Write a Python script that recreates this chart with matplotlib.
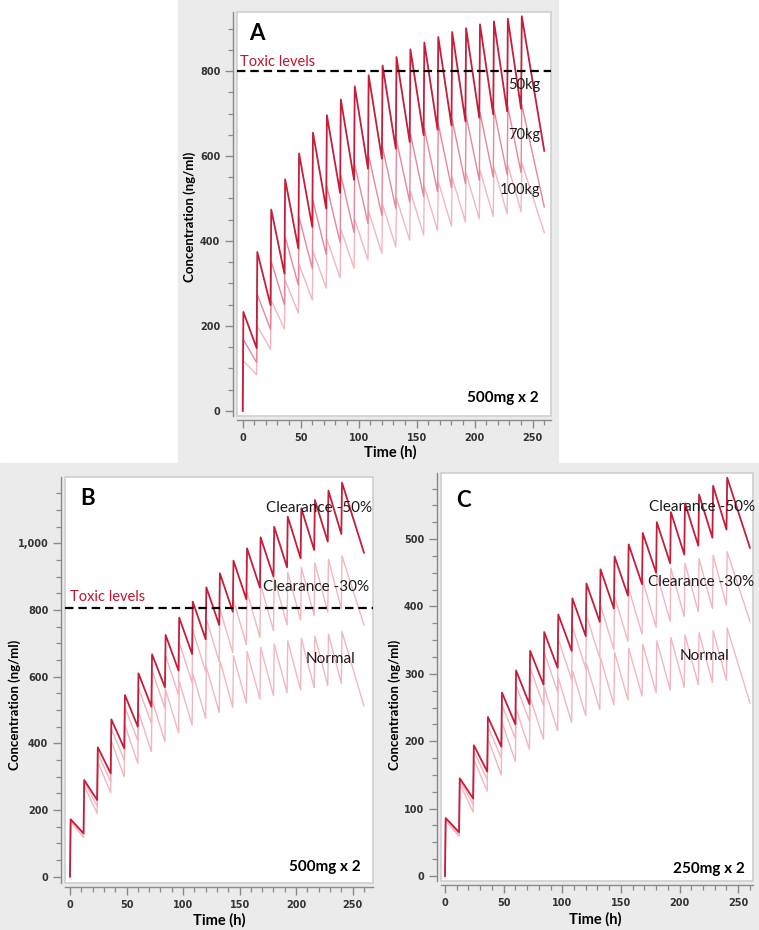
import matplotlib.pyplot as plt
from matplotlib.ticker import MultipleLocator, FuncFormatter
from matplotlib.patches import Rectangle

plt.rcParams['font.family'] = ['Lato', 'DejaVu Sans']

# dosing every 12 h, simulation ends at 260 h
dose_times = list(range(0, 241, 12))
t_end = 260

# Panel A: 500mg x 2, by body weight
a_50_peaks = [233, 374, 474, 545, 606, 655, 696, 733, 764, 790, 813, 833, 851, 867, 880, 892, 901, 910, 917, 923, 929]
a_50_troughs = [148, 249, 323, 382, 433, 476, 513, 544, 570, 594, 617, 633, 649, 662, 672, 682, 690, 698, 705, 711]
a_50_end = 612
a_70_peaks = [168, 274, 352, 410, 456, 495, 528, 556, 580, 601, 620, 637, 652, 665, 676, 686, 695, 703, 710, 716, 721]
a_70_troughs = [114, 192, 250, 296, 335, 368, 396, 420, 441, 460, 477, 492, 505, 516, 526, 535, 543, 550, 556, 561]
a_70_end = 480
a_100_peaks = [118, 200, 260, 308, 345, 376, 404, 428, 451, 470, 486, 501, 517, 529, 540, 550, 560, 567, 573, 579, 584]
a_100_troughs = [85, 145, 193, 230, 261, 289, 313, 336, 355, 371, 386, 402, 414, 425, 435, 445, 452, 458, 464, 469]
a_100_end = 420

# Panel B: 500mg x 2, by clearance
b_50_peaks = [172, 290, 388, 472, 545, 610, 667, 725, 777, 825, 868, 910, 948, 985, 1018, 1050, 1080, 1105, 1130, 1158, 1182]
b_50_troughs = [130, 230, 310, 385, 450, 510, 568, 618, 668, 712, 755, 795, 832, 867, 900, 928, 955, 980, 1005, 1028]
b_50_end = 972
b_30_peaks = [167, 285, 370, 443, 508, 566, 618, 663, 703, 740, 773, 803, 830, 854, 876, 896, 913, 928, 941, 952, 962]
b_30_troughs = [125, 212, 285, 350, 408, 460, 505, 545, 582, 615, 645, 672, 696, 718, 738, 755, 770, 783, 794, 804]
b_30_end = 755
b_norm_peaks = [165, 273, 345, 407, 455, 495, 530, 560, 587, 610, 630, 648, 663, 676, 688, 698, 707, 715, 722, 728, 735]
b_norm_troughs = [118, 190, 252, 300, 340, 375, 405, 432, 455, 475, 493, 508, 521, 533, 543, 552, 560, 567, 573, 580]
b_norm_end = 512

# Panel C: 250mg x 2, by clearance
c_50_peaks = [86, 145, 194, 236, 272, 305, 334, 362, 388, 412, 434, 455, 474, 492, 509, 525, 540, 553, 566, 579, 591]
c_50_troughs = [65, 115, 155, 192, 225, 255, 284, 309, 334, 356, 377, 397, 416, 433, 450, 464, 477, 490, 502, 514]
c_50_end = 487
c_30_peaks = [84, 142, 185, 222, 254, 283, 309, 332, 352, 370, 387, 402, 415, 427, 438, 448, 457, 464, 471, 476, 481]
c_30_troughs = [62, 106, 143, 175, 204, 230, 253, 273, 291, 308, 323, 336, 348, 359, 369, 378, 385, 392, 397, 402]
c_30_end = 378
c_norm_peaks = [82, 137, 173, 204, 228, 248, 265, 280, 294, 305, 315, 324, 332, 338, 344, 349, 354, 358, 361, 364, 368]
c_norm_troughs = [59, 95, 126, 150, 170, 188, 203, 216, 228, 238, 247, 254, 261, 267, 272, 276, 280, 284, 287, 290]
c_norm_end = 257

toxic_level_a = 800
toxic_level_b = 805

DARK = '#c41e3a'
MID = '#e58798'
LIGHT = '#f2b6bf'
RED_TXT = '#c0152f'
BG = '#ebebeb'
W, H = 759, 930


def sawtooth(peaks, troughs, end):
    x, y = [0], [0]
    for i, t in enumerate(dose_times):
        x.append(t + 0.6)
        y.append(peaks[i])
        if i < len(troughs):
            x.append(dose_times[i + 1])
            y.append(troughs[i])
    x.append(t_end)
    y.append(end)
    return x, y


def style_axis(ax, xlim, ylim, ymajor, yminor, yfmt=None):
    ax.set_xlim(*xlim)
    ax.set_ylim(*ylim)
    ax.set_facecolor('white')
    ax.patch.set_edgecolor('#cfcfcf')
    ax.patch.set_linewidth(1.2)
    for s in ['top', 'right']:
        ax.spines[s].set_visible(False)
    for s in ['left', 'bottom']:
        ax.spines[s].set_position(('outward', 3))
        ax.spines[s].set_color('#8a8a8a')
        ax.spines[s].set_linewidth(1.0)
    ax.xaxis.set_major_locator(MultipleLocator(50))
    ax.xaxis.set_minor_locator(MultipleLocator(10))
    ax.yaxis.set_major_locator(MultipleLocator(ymajor))
    ax.yaxis.set_minor_locator(MultipleLocator(yminor))
    ax.set_xticks([0, 50, 100, 150, 200, 250])
    ax.set_xlim(*xlim)
    ax.set_ylim(*ylim)
    if yfmt:
        ax.yaxis.set_major_formatter(FuncFormatter(yfmt))
    ax.tick_params(which='major', length=6, width=1.0, color='#8a8a8a',
                   labelsize=7, labelcolor='#333333', pad=3)
    ax.tick_params(which='minor', length=3.5, width=0.9, color='#8a8a8a')
    for lab in ax.get_xticklabels() + ax.get_yticklabels():
        lab.set_fontfamily('DejaVu Sans')
        lab.set_fontweight('bold')


def fx(px):
    return px / W


def fy(py):
    return 1 - py / H


fig = plt.figure(figsize=(W / 100, H / 100), dpi=100)
fig.patch.set_facecolor('white')
fig.add_artist(Rectangle((fx(178), fy(463)), fx(558) - fx(178), 463 / H,
                         transform=fig.transFigure, color=BG, zorder=-5))
fig.add_artist(Rectangle((0, 0), 1, fy(463), transform=fig.transFigure,
                         color=BG, zorder=-5))

axA = fig.add_axes([fx(237), fy(416), fx(551 - 237), (416 - 12) / H])
axB = fig.add_axes([fx(65), fy(883), fx(373 - 65), (883 - 477) / H])
axC = fig.add_axes([fx(441), fy(881), fx(753 - 441), (881 - 473) / H])

# ---- A ----
for (pk, tr, en), col, lw in [((a_100_peaks, a_100_troughs, a_100_end), LIGHT, 1.0),
                              ((a_70_peaks, a_70_troughs, a_70_end), MID, 1.0),
                              ((a_50_peaks, a_50_troughs, a_50_end), DARK, 1.3)]:
    x, y = sawtooth(pk, tr, en)
    axA.plot(x, y, color=col, lw=lw)
axA.axhline(toxic_level_a, color='black', lw=1.6, ls=(0, (3.8, 2.2)))
style_axis(axA, (-4.9, 265.8), (-12, 939), 200, 50)
axA.text(-2.3, 813, 'Toxic levels', color=RED_TXT, fontsize=10.5, va='baseline')
axA.text(257, 767, '50kg', fontsize=10.5, ha='right', va='center', color='#1a1a1a')
axA.text(257, 649, '70kg', fontsize=10.5, ha='right', va='center', color='#1a1a1a')
axA.text(257, 520, '100kg', fontsize=10.5, ha='right', va='center', color='#1a1a1a')
axA.text(255, 31, '500mg x 2', fontsize=11, fontweight='bold', ha='right', va='center')

# ---- B ----
for (pk, tr, en), col, lw in [((b_norm_peaks, b_norm_troughs, b_norm_end), LIGHT, 1.0),
                              ((b_30_peaks, b_30_troughs, b_30_end), LIGHT, 1.0),
                              ((b_50_peaks, b_50_troughs, b_50_end), DARK, 1.3)]:
    x, y = sawtooth(pk, tr, en)
    axB.plot(x, y, color=col, lw=lw)
axB.axhline(toxic_level_b, color='black', lw=1.6, ls=(0, (3.8, 2.2)))
style_axis(axB, (-4.4, 268), (-19, 1199), 200, 50, lambda v, p: f'{int(v):,}')
axB.text(0, 826, 'Toxic levels', color=RED_TXT, fontsize=10.5, va='baseline')
axB.text(173, 1106, 'Clearance -50%', fontsize=11, va='center', color='#1a1a1a')
axB.text(171, 869, 'Clearance -30%', fontsize=11, va='center', color='#1a1a1a')
axB.text(208, 653, 'Normal', fontsize=11, va='center', color='#1a1a1a')
axB.text(257, 29, '500mg x 2', fontsize=11, fontweight='bold', ha='right', va='center')

# ---- C ----
for (pk, tr, en), col, lw in [((c_norm_peaks, c_norm_troughs, c_norm_end), LIGHT, 1.0),
                              ((c_30_peaks, c_30_troughs, c_30_end), LIGHT, 1.0),
                              ((c_50_peaks, c_50_troughs, c_50_end), DARK, 1.3)]:
    x, y = sawtooth(pk, tr, en)
    axC.plot(x, y, color=col, lw=lw)
style_axis(axC, (-3.4, 262.6), (-7.4, 598), 100, 25)
axC.text(174, 548, 'Clearance -50%', fontsize=11, va='center', color='#1a1a1a')
axC.text(173, 437, 'Clearance -30%', fontsize=11, va='center', color='#1a1a1a')
axC.text(200, 326, 'Normal', fontsize=11, va='center', color='#1a1a1a')
axC.text(256, 10, '250mg x 2', fontsize=11, fontweight='bold', ha='right', va='center')

# panel letters and axis titles
for letter, (px, py) in [('A', (257, 33)), ('B', (88, 498)), ('C', (463, 500))]:
    fig.text(fx(px), fy(py), letter, fontsize=16, fontweight='bold', ha='center', va='center')
for px, py in [(190, 217), (15, 705), (395, 705)]:
    fig.text(fx(px), fy(py), 'Concentration (ng/ml)', fontsize=9.5, fontweight='bold',
             rotation=90, ha='center', va='center')
for px, py in [(390, 452), (219, 920), (595, 919)]:
    fig.text(fx(px), fy(py), 'Time (h)', fontsize=10.5, fontweight='bold', ha='center', va='center')

fig.savefig('out.png', dpi=100)
